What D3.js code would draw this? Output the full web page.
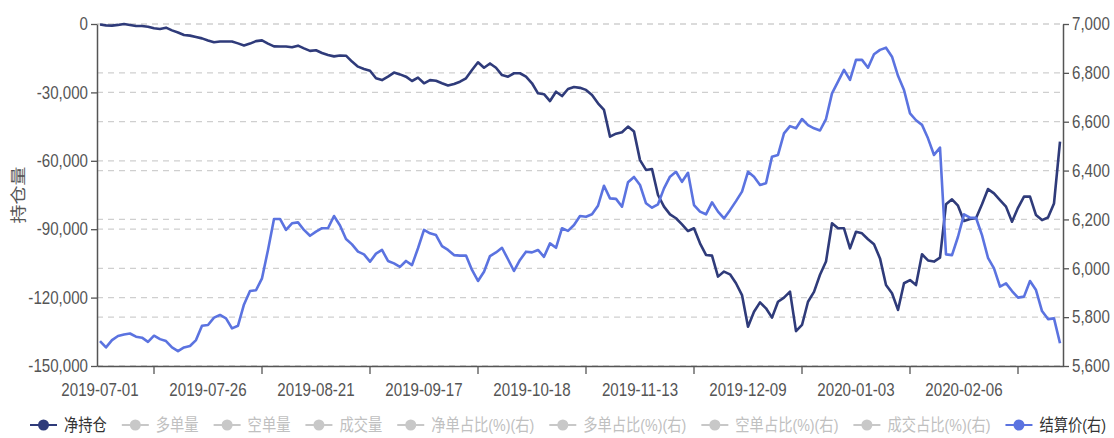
<!DOCTYPE html>
<html>
<head>
<meta charset="utf-8">
<script src="https://cdn.jsdelivr.net/npm/d3@7"></script>
<style>
    html, body { margin: 0; padding: 0; background: #fff; }
    svg { display: block; }
</style>
</head>
<body>
<svg id="chart" width="1114" height="438"></svg>
<script>
// x-axis labels (one every 18 trading days)
const xLabels = ['2019-07-01', '2019-07-26', '2019-08-21', '2019-09-17', '2019-10-18',
    '2019-11-13', '2019-12-09', '2020-01-03', '2020-02-06'];

// 净持仓 (left axis)
const netPosition = [
    -200, -600, -700, -400, 0, -400, -900, -900, -1200, -1900,
    -2200, -1600, -2800, -3700, -4800, -5100, -5700, -6300, -7200, -8000,
    -7700, -7700, -7700, -8500, -9400, -8600, -7500, -7200, -8600, -9800,
    -9900, -9900, -10200, -9500, -10700, -11800, -11500, -12700, -13600, -14200,
    -13800, -13900, -16500, -18700, -19700, -20500, -23800, -24600, -23100, -21300,
    -22100, -23100, -25000, -23500, -26000, -24600, -24900, -26000, -27000, -26300,
    -25300, -23800, -20200, -16800, -19200, -17300, -19200, -22400, -23100, -21600,
    -21600, -23100, -26000, -30400, -30800, -33800, -29700, -31600, -28500, -27600,
    -28000, -28900, -31100, -34800, -37700, -49400, -48100, -47500, -45000, -47200,
    -59700, -64000, -63600, -75000, -80100, -83500, -85200, -87900, -90800, -89600,
    -96200, -101300, -101600, -110800, -108600, -109800, -113700, -118900, -132800, -126200,
    -122100, -124700, -128800, -121800, -120000, -117400, -134700, -132000, -121800, -117500,
    -110000, -104200, -87400, -89600, -89600, -98400, -91100, -91800, -94400, -96600,
    -102800, -114500, -118100, -125400, -113700, -112300, -114500, -101000, -103700, -104200,
    -102500, -79100, -76900, -79700, -86400, -85500, -85200, -79100, -72400, -74300,
    -77200, -80100, -86700, -80600, -75700, -75700, -83800, -86000, -84900, -78700,
    -51600
];

// 结算价(右) (right axis)
const settlePrice = [
    5702, 5676, 5706, 5723, 5729, 5733, 5720, 5716, 5699, 5724,
    5710, 5702, 5676, 5661, 5676, 5682, 5706, 5765, 5768, 5798,
    5809, 5795, 5754, 5765, 5852, 5907, 5910, 5959, 6075, 6202,
    6202, 6157, 6184, 6188, 6157, 6133, 6150, 6164, 6164, 6214,
    6175, 6120, 6098, 6068, 6057, 6027, 6060, 6075, 6030, 6020,
    6006, 6030, 6013, 6082, 6157, 6143, 6136, 6091, 6075, 6054,
    6052, 6052, 5993, 5948, 5986, 6050, 6065, 6084, 6037, 5989,
    6034, 6068, 6065, 6075, 6047, 6102, 6084, 6164, 6153, 6177,
    6214, 6211, 6221, 6256, 6338, 6286, 6284, 6252, 6352, 6374,
    6341, 6266, 6248, 6262, 6327, 6375, 6395, 6354, 6391, 6259,
    6232, 6221, 6270, 6232, 6204, 6238, 6275, 6314, 6395, 6375,
    6341, 6348, 6457, 6464, 6552, 6582, 6573, 6611, 6586, 6573,
    6564, 6611, 6716, 6764, 6812, 6771, 6853, 6853, 6821, 6876,
    6894, 6903, 6866, 6788, 6730, 6634, 6606, 6587, 6532, 6464,
    6494, 6057, 6054, 6129, 6221, 6207, 6207, 6136, 6043, 6000,
    5925, 5938, 5907, 5880, 5884, 5948, 5911, 5825, 5792, 5795,
    5693
];

const leftTicks = [0, -30000, -60000, -90000, -120000, -150000];
const rightTicks = [5600, 5800, 6000, 6200, 6400, 6600, 6800, 7000];

const legendNames = ['净持仓', '多单量', '空单量', '成交量', '净单占比(%)(右)',
    '多单占比(%)(右)', '空单占比(%)(右)', '成交占比(%)(右)', '结算价(右)'];

const NAVY = '#2f3b7a';
const BLUE = '#5b73e0';
const GREY = '#c8c8c8';
const FONT = '"Liberation Sans", "Noto Sans CJK SC", sans-serif';
const SQ = 0.84; // horizontal squeeze of the text

const svg = d3.select('#chart');
const plot = { left: 97, right: 1063, top: 24, bottom: 366 };

const N = netPosition.length;
const x = d3.scaleBand().domain(d3.range(N)).range([plot.left, plot.right]);
const cx = i => x(i) + x.bandwidth() / 2;
const yL = d3.scaleLinear().domain([-150000, 0]).range([plot.bottom, plot.top]);
const yR = d3.scaleLinear().domain([5600, 7000]).range([plot.bottom, plot.top]);

const fmt = d3.formatLocale({ decimal: '.', thousands: ',', grouping: [3], currency: ['', ''], minus: '-' }).format(',');

// squeeze axis texts horizontally around their tick
function squeeze(sel) {
    sel.each(function() {
        const t = d3.select(this);
        const xv = +t.attr('x') || 0;
        t.attr('x', xv / SQ).attr('transform', `scale(${SQ},1)`);
    });
}

// Grid lines for both axes
const grid = svg.append('g');
[...leftTicks.map(v => yL(v)), ...rightTicks.map(v => yR(v))].forEach(yy => {
    grid.append('line')
        .attr('x1', plot.left).attr('x2', plot.right)
        .attr('y1', yy).attr('y2', yy)
        .attr('stroke', '#cfcfcf')
        .attr('stroke-width', 1.2)
        .attr('stroke-dasharray', '6,5');
});

// Left axis
const axL = svg.append('g')
    .attr('transform', `translate(${plot.left},0)`)
    .call(d3.axisLeft(yL).tickValues(leftTicks).tickFormat(fmt).tickSize(6).tickSizeOuter(0).tickPadding(3));
axL.selectAll('text').attr('font-size', 18).attr('font-family', FONT).attr('fill', '#555').call(squeeze);

// Right axis
const axR = svg.append('g')
    .attr('transform', `translate(${plot.right},0)`)
    .call(d3.axisRight(yR).tickValues(rightTicks).tickFormat(fmt).tickSize(6).tickSizeOuter(0).tickPadding(3));
axR.selectAll('text').attr('font-size', 18).attr('font-family', FONT).attr('fill', '#555').call(squeeze);

// Bottom axis: ticks halfway between labels
const tickIdx = d3.range(9, N, 18);
const axB = svg.append('g')
    .attr('transform', `translate(0,${plot.bottom})`)
    .call(d3.axisBottom(x).tickValues(tickIdx).tickFormat('').tickSize(8).tickSizeOuter(0));

[axL, axR, axB].forEach(g => {
    g.select('.domain').attr('stroke', '#555').attr('stroke-width', 1.5);
    g.selectAll('.tick line').attr('stroke', '#555').attr('stroke-width', 1.3);
});

// x labels
xLabels.forEach((lab, k) => {
    svg.append('text')
        .attr('transform', `translate(${cx(k * 18)},396) scale(${SQ},1)`)
        .attr('text-anchor', 'middle')
        .attr('font-size', 18)
        .attr('font-family', FONT)
        .attr('fill', '#555')
        .text(lab);
});

// y axis title
svg.append('text')
    .attr('transform', `translate(18,195) rotate(-90) scale(1,${SQ})`)
    .attr('text-anchor', 'middle')
    .attr('dy', '0.35em')
    .attr('font-size', 19)
    .attr('font-family', FONT)
    .attr('fill', '#555')
    .text('持仓量');

// Lines
const lineL = d3.line().x((d, i) => cx(i)).y(d => yL(d));
const lineR = d3.line().x((d, i) => cx(i)).y(d => yR(d));

svg.append('path')
    .datum(netPosition)
    .attr('d', lineL)
    .attr('fill', 'none')
    .attr('stroke', NAVY)
    .attr('stroke-width', 2.6)
    .attr('stroke-linejoin', 'round');

svg.append('path')
    .datum(settlePrice)
    .attr('d', lineR)
    .attr('fill', 'none')
    .attr('stroke', BLUE)
    .attr('stroke-width', 2.6)
    .attr('stroke-linejoin', 'round');

// Legend
const legend = svg.append('g').attr('transform', 'translate(0,425)');
let lx = 30;
legendNames.forEach((name, i) => {
    const active = i === 0 || i === legendNames.length - 1;
    const col = i === 0 ? NAVY : (i === legendNames.length - 1 ? BLUE : GREY);
    const item = legend.append('g').attr('transform', `translate(${lx},0)`);
    item.append('line')
        .attr('x1', 0).attr('x2', 27)
        .attr('stroke', col).attr('stroke-width', 2);
    item.append('circle')
        .attr('cx', 13.5).attr('r', 5.5)
        .attr('fill', col);
    const txt = item.append('text')
        .attr('transform', `translate(34,0) scale(${SQ},1)`)
        .attr('dy', '0.35em')
        .attr('font-size', 17)
        .attr('font-family', FONT)
        .attr('fill', active ? '#333' : '#c0c0c0')
        .text(name);
    const w = txt.node().getComputedTextLength() * SQ;
    lx += 34 + w + 15;
});
</script>
</body>
</html>
